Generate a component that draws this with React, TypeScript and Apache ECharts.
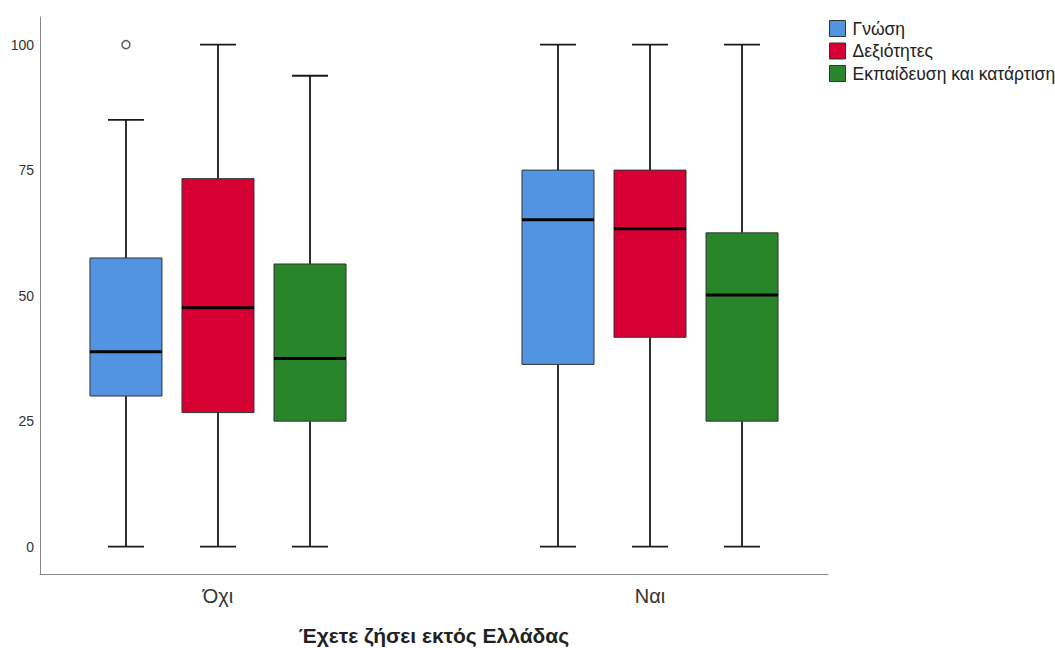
import React, { useEffect, useRef } from "react";
import * as echarts from "echarts";

const categories = ["Όχι", "Ναι"];
const seriesNames = ["Γνώση", "Δεξιότητες", "Εκπαίδευση και κατάρτιση"];
const seriesColors = ["#5294E2", "#D60032", "#29852A"];
// [min, Q1, median, Q3, max] per category
const knowledge = [
  [0, 30.0, 38.8, 57.5, 85],
  [0, 36.3, 65.1, 75, 100],
];
const skills = [
  [0, 26.7, 47.6, 73.3, 100],
  [0, 41.7, 63.3, 75, 100],
];
const training = [
  [0, 25, 37.5, 56.3, 93.8],
  [0, 25, 50.1, 62.5, 100],
];
// outliers: [category index, value] for Γνώση
const knowledgeOutliers = [[0, 100]];
const yTicks = [0, 25, 50, 75, 100];
const xTitle = "Έχετε ζήσει εκτός Ελλάδας";

const FONT = "'Liberation Sans', Arial, sans-serif";
const OFFSET = 0.213;
const BOX_W = 0.1667;
const CAP_W = 0.0833;

export default function App() {
  const ref = useRef<HTMLDivElement>(null);
  useEffect(() => {
    if (!ref.current) return;
    const chart = echarts.init(ref.current, null, { renderer: "svg" });
    const allSets = [knowledge, skills, training];
    const offsets = [-OFFSET, 0, OFFSET];

    const renderItem = (params: any, api: any) => {
      const x = api.value(0);
      const pMin = api.coord([x, api.value(1)]);
      const pQ1 = api.coord([x, api.value(2)]);
      const pMed = api.coord([x, api.value(3)]);
      const pQ3 = api.coord([x, api.value(4)]);
      const pMax = api.coord([x, api.value(5)]);
      const bw = api.size([BOX_W, 0])[0];
      const cw = api.size([CAP_W, 0])[0];
      const cx = pMed[0];
      const color = api.visual("color");
      const lineStyle = { stroke: "#1a1a1a", lineWidth: 1.8 };
      return {
        type: "group",
        children: [
          { type: "line", shape: { x1: cx, y1: pMin[1], x2: cx, y2: pQ1[1] }, style: lineStyle },
          { type: "line", shape: { x1: cx, y1: pQ3[1], x2: cx, y2: pMax[1] }, style: lineStyle },
          { type: "line", shape: { x1: cx - cw / 2, y1: pMin[1], x2: cx + cw / 2, y2: pMin[1] }, style: lineStyle },
          { type: "line", shape: { x1: cx - cw / 2, y1: pMax[1], x2: cx + cw / 2, y2: pMax[1] }, style: lineStyle },
          {
            type: "rect",
            shape: { x: cx - bw / 2, y: pQ3[1], width: bw, height: pQ1[1] - pQ3[1] },
            style: { fill: color, stroke: "#333", lineWidth: 1 },
          },
          {
            type: "line",
            shape: { x1: cx - bw / 2, y1: pMed[1], x2: cx + bw / 2, y2: pMed[1] },
            style: { stroke: "#000", lineWidth: 3 },
          },
        ],
      };
    };

    const series: any[] = allSets.map((set, si) => ({
      name: seriesNames[si],
      type: "custom",
      renderItem,
      itemStyle: { color: seriesColors[si] },
      encode: { x: 0, y: [1, 2, 3, 4, 5] },
      data: set.map((v, ci) => [ci + offsets[si], ...v]),
    }));
    series.push({
      name: "outliers",
      type: "scatter",
      symbol: "circle",
      symbolSize: 8,
      itemStyle: { color: "#fff", borderColor: "#333", borderWidth: 1.5 },
      data: knowledgeOutliers.map(([ci, v]) => [ci + offsets[0], v]),
      z: 5,
    });

    chart.setOption({
      animation: false,
      grid: { left: 40, right: 227, top: 17, bottom: 74, outerBoundsMode: "none", containLabel: false },
      legend: {
        data: seriesNames.map((n, i) => ({ name: n, itemStyle: { color: seriesColors[i] } })),
        orient: "vertical",
        left: 829,
        top: 19,
        padding: 0,
        itemWidth: 16,
        itemHeight: 16,
        itemGap: 3.5,
        icon: "rect",
        selectedMode: false,
        itemStyle: { borderColor: "#333", borderWidth: 1 },
        textStyle: { fontSize: 17.5, lineHeight: 19, color: "#222", fontFamily: FONT, padding: [0, 0, 0, 2] },
      },
      xAxis: {
        type: "value",
        min: -0.412,
        max: 1.412,
        splitLine: { show: false },
        axisTick: { show: false },
        axisLine: { show: true, onZero: false, lineStyle: { color: "#888", width: 1 } },
        axisLabel: {
          customValues: [0, 1],
          formatter: (v: number) => categories[Math.round(v)] ?? "",
          fontSize: 20,
          color: "#333",
          fontFamily: FONT,
          margin: 12,
        },
        name: xTitle,
        nameLocation: "middle",
        nameGap: 51,
        nameTextStyle: { fontSize: 21, fontWeight: "bold", color: "#222", fontFamily: FONT },
      },
      yAxis: {
        type: "value",
        min: -5.45,
        max: 105.5,
        splitLine: { show: false },
        axisTick: { show: false },
        axisLine: { show: true, onZero: false, lineStyle: { color: "#888", width: 1 } },
        axisLabel: {
          customValues: yTicks,
          fontSize: 14,
          color: "#333",
          fontFamily: FONT,
          margin: 6,
        },
      },
      series,
    });
    return () => chart.dispose();
  }, []);
  return (
    <div
      ref={ref}
      style={{ position: "fixed", left: 0, top: 0, width: 1055, height: 648, background: "#fff" }}
    />
  );
}
